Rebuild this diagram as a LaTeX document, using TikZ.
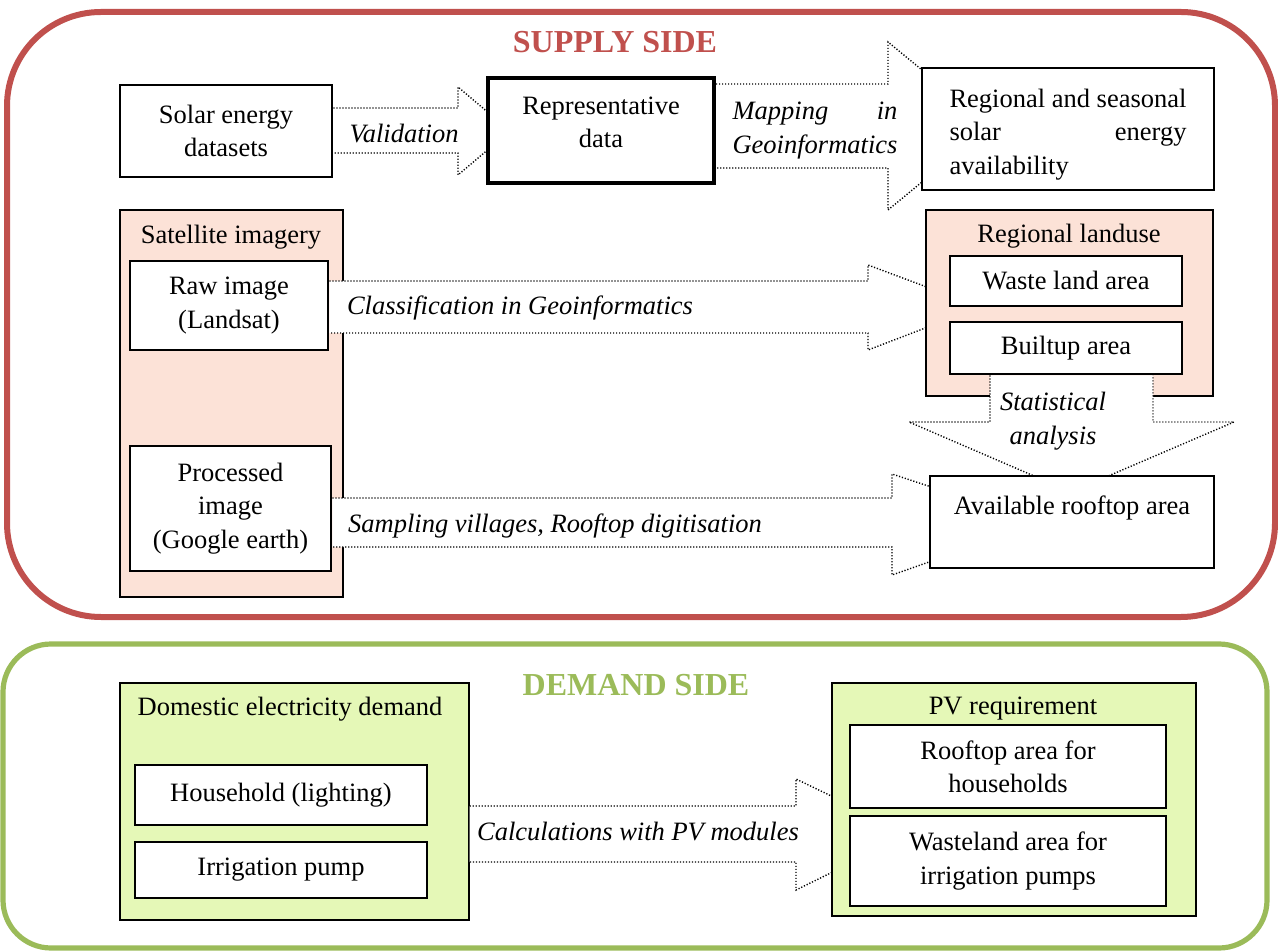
\documentclass[tikz,border=0pt]{standalone}
\usepackage{fontspec}
\setmainfont{Liberation Serif}
\usetikzlibrary{positioning}

\definecolor{supplyred}{RGB}{192,80,77}
\definecolor{demandgreen}{RGB}{155,187,89}
\definecolor{supplyfill}{RGB}{252,226,215}
\definecolor{demandfill}{RGB}{229,248,183}

\newcommand{\bodysize}{\fontsize{13.25}{16.7}\selectfont}

\pgfdeclarelayer{back}
\pgfdeclarelayer{mid}
\pgfsetlayers{back,mid,main}

\tikzset{
  box/.style={draw, line width=1.4pt, fill=white, align=center, inner sep=2pt},
  group/.style={draw, line width=0.6pt, inner sep=0pt},
  blockarrow/.style={draw, line width=0.7pt, dash pattern=on 0.6pt off 0.9pt, fill=white},
  arrowlabel/.style={font=\bodysize\itshape, align=center},
  sidetitle/.style={font=\fontsize{16}{19}\selectfont\bfseries},
}

\begin{document}
\begin{tikzpicture}[x=0.5pt, y=-0.5pt, font=\bodysize]
    \useasboundingbox (0,0) rectangle (1278,951);

    % Titles
    \node[sidetitle, text=supplyred] (supplytitle) at (615,42) {SUPPLY SIDE};
    \node[sidetitle, text=demandgreen] (demandtitle) at (636,685) {DEMAND SIDE};
    \node (sattitle) at (231,237) {Satellite imagery};
    \node (landtitle) at (1069,236) {Regional landuse};
    \node (domtitle) at (290,709) {Domestic electricity demand};
    \node (pvtitle) at (1013,709) {PV requirement};

    % Supply side boxes
    \node[box, minimum width=106pt, minimum height=46pt] (solar) at (226,131) {Solar energy\\datasets};
    \node[box, line width=2pt, minimum width=113pt, minimum height=52.5pt] (repr) at (601,130.5)
        {\raisebox{3pt}[\height][\depth]{\begin{tabular}{@{}c@{}}Representative\\data\end{tabular}}};
    \node[box, minimum width=146pt, minimum height=61pt] (seasonal) at (1068,129)
        {\raisebox{-2.5pt}[\height][\depth]{\begin{tabular}{@{}l@{}}Regional and seasonal\\solar\hfill energy\\availability\end{tabular}}};
    \node[box, minimum width=99pt, minimum height=44.5pt] (raw) at (229,305.5) {Raw image\\(Landsat)};
    \node[box, minimum width=100.5pt, minimum height=62.5pt] (processed) at (230.5,508.5) {Processed\\image\\(Google earth)};
    \node[box, minimum width=116pt, minimum height=25pt] (waste) at (1066,281) {Waste land area};
    \node[box, minimum width=116pt, minimum height=26pt] (builtup) at (1066,348) {Builtup area};
    \node[box, minimum width=142pt, minimum height=46pt] (rooftop) at (1072,522) {Available rooftop area\\\mbox{}};

    % Demand side boxes
    \node[box, minimum width=146pt, minimum height=30pt] (household) at (281,795) {Household (lighting)};
    \node[box, minimum width=146pt, minimum height=28pt] (pump) at (281,870) {Irrigation pump};
    \node[box, minimum width=158pt, minimum height=41.5pt] (roofhh) at (1008,766.5) {Rooftop area for\\households};
    \node[box, minimum width=158pt, minimum height=45pt] (wasteland) at (1008,861) {Wasteland area for\\irrigation pumps};

    % Block arrow tips (hidden under the boxes)
    \coordinate (validtip) at (510,131);
    \coordinate (maptip) at (990,126);
    \coordinate (classtip) at (980,307);
    \coordinate (sampletip) at (1040,523);
    \coordinate (stattip) at (1071,492);
    \coordinate (calctip) at (910,834);

    % Frames, grouping boxes and block arrows
    \begin{pgfonlayer}{back}
        \draw[supplyred, line width=3pt, rounded corners=47pt] (7,12) rectangle (1275,617);
        \draw[demandgreen, line width=2.6pt, rounded corners=24pt] (3,644) rectangle (1267,948);
        \node[group, fill=supplyfill, minimum width=111.5pt, minimum height=193.5pt] (satellite) at (231.5,403.5) {};
        \node[group, fill=demandfill, minimum width=174.5pt, minimum height=118.5pt] (domestic) at (294.5,801.5) {};

        \draw[blockarrow] (solar.east |- 0,108) -- (458,108) -- (458,87) -- (validtip)
            -- (458,175) -- (458,153) -- (solar.east |- 0,153);
        \draw[blockarrow] (repr.east |- 0,84) -- (888,84) -- (888,42) -- (maptip)
            -- (888,210) -- (888,168) -- (repr.east |- 0,168);
        \draw[blockarrow] (raw.east |- 0,281) -- (868,281) -- (868,265) -- (classtip)
            -- (868,350) -- (868,333) -- (raw.east |- 0,333);
        \draw[blockarrow] (processed.east |- 0,498) -- (892,498) -- (892,474) -- (sampletip)
            -- (892,575) -- (892,547) -- (processed.east |- 0,547);
        \draw[blockarrow] (domestic.east |- 0,806) -- (796,806) -- (796,779) -- (calctip)
            -- (796,890) -- (796,862) -- (domestic.east |- 0,862);

        \node[group, fill=supplyfill, minimum width=143.5pt, minimum height=93pt] (landuse) at (1069.5,303) {};
        \node[group, fill=demandfill, minimum width=182pt, minimum height=116.5pt] (pvreq) at (1014,799.5) {};
    \end{pgfonlayer}
    \begin{pgfonlayer}{mid}
        \draw[blockarrow] (990,0 |- builtup.south) -- (990,422) -- (909,422) -- (stattip)
            -- (1234,422) -- (1153,422) -- (1153,0 |- builtup.south);
    \end{pgfonlayer}

    % Arrow labels
    \node[arrowlabel] (validlabel) at (404,134) {Validation};
    \node[arrowlabel] (maplabel) at (815,130) {\begin{tabular}{@{}l@{}}Mapping\hfill in\\Geoinformatics\end{tabular}};
    \node[arrowlabel] (classlabel) at (520,308) {Classification in Geoinformatics};
    \node[arrowlabel] (samplelabel) at (555,526) {Sampling villages, Rooftop digitisation};
    \node[arrowlabel] (statlabel) at (1053,421) {Statistical\\analysis};
    \node[arrowlabel] (calclabel) at (638,832) {Calculations with PV modules};
\end{tikzpicture}
\end{document}
